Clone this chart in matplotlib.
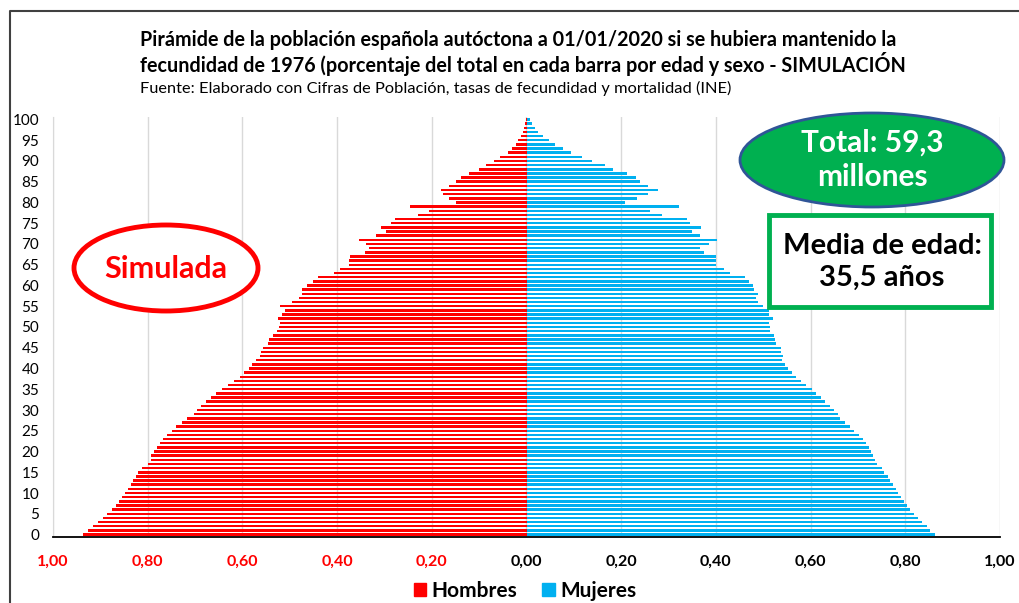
import matplotlib.pyplot as plt
import numpy as np
from matplotlib.patches import Ellipse, Rectangle, Patch
from matplotlib.ticker import FuncFormatter, MultipleLocator

plt.rcParams['font.family'] = ['Lato', 'DejaVu Sans']

# edad 0..100
edades = np.arange(0, 101)

# % del total, hombres (se dibujan a la izquierda)
hombres = [0.937, 0.926, 0.916, 0.905, 0.895, 0.886, 0.876, 0.868, 0.861, 0.854,
           0.848, 0.842, 0.836, 0.830, 0.825, 0.820, 0.811, 0.800, 0.794, 0.792,
           0.787, 0.781, 0.775, 0.768, 0.759, 0.749, 0.740, 0.727, 0.716, 0.702,
           0.695, 0.687, 0.676, 0.666, 0.655, 0.643, 0.630, 0.618, 0.606, 0.596,
           0.587, 0.579, 0.571, 0.563, 0.560, 0.556, 0.546, 0.543, 0.535, 0.527,
           0.523, 0.520, 0.525, 0.516, 0.511, 0.521, 0.496, 0.481, 0.474, 0.474,
           0.463, 0.451, 0.440, 0.407, 0.393, 0.375, 0.374, 0.372, 0.342, 0.332,
           0.340, 0.354, 0.317, 0.296, 0.308, 0.286, 0.277, 0.230, 0.206, 0.245,
           0.148, 0.164, 0.176, 0.180, 0.164, 0.148, 0.138, 0.122, 0.101, 0.086,
           0.068, 0.055, 0.040, 0.031, 0.023, 0.017, 0.012, 0.008, 0.005, 0.003,
           0.002]

# % del total, mujeres (a la derecha)
mujeres = [0.863, 0.853, 0.845, 0.836, 0.827, 0.819, 0.810, 0.803, 0.797, 0.791,
           0.785, 0.780, 0.774, 0.768, 0.763, 0.756, 0.751, 0.740, 0.735, 0.732,
           0.728, 0.723, 0.717, 0.710, 0.702, 0.692, 0.683, 0.673, 0.663, 0.657,
           0.649, 0.641, 0.631, 0.623, 0.612, 0.602, 0.591, 0.579, 0.569, 0.560,
           0.552, 0.546, 0.540, 0.542, 0.538, 0.537, 0.526, 0.525, 0.522, 0.514,
           0.514, 0.512, 0.521, 0.513, 0.512, 0.500, 0.489, 0.484, 0.489, 0.480,
           0.479, 0.470, 0.462, 0.430, 0.418, 0.401, 0.401, 0.400, 0.375, 0.367,
           0.385, 0.403, 0.366, 0.350, 0.368, 0.346, 0.339, 0.287, 0.261, 0.323,
           0.209, 0.234, 0.257, 0.277, 0.256, 0.240, 0.232, 0.212, 0.183, 0.166,
           0.138, 0.117, 0.093, 0.078, 0.060, 0.047, 0.035, 0.025, 0.017, 0.012,
           0.008]

xticks = np.arange(-1.0, 1.01, 0.2)

rojo = '#FF0000'
azul = '#00B0F0'
verde = '#00B050'

W, H = 1019, 603
fig = plt.figure(figsize=(W / 100, H / 100), dpi=100)
ax = fig.add_axes([53 / W, (H - 537) / H, (1000 - 53) / W, (537 - 117) / H])

ax.barh(edades, -np.array(hombres), height=0.6, color=rojo, zorder=3)
ax.barh(edades, mujeres, height=0.6, color=azul, zorder=3)

ax.set_xlim(-1, 1)
ax.set_ylim(-0.6, 100.6)
ax.set_xticks(xticks)
ax.xaxis.set_major_formatter(FuncFormatter(lambda v, p: ('%.2f' % abs(v)).replace('.', ',')))
ax.yaxis.set_major_locator(MultipleLocator(5))
ax.grid(axis='x', color='#D9D9D9', lw=1, zorder=0)
for s in ['top', 'right']:
    ax.spines[s].set_visible(False)
ax.spines['left'].set_color('#D9D9D9')
ax.spines['bottom'].set_color('black')
ax.spines['bottom'].set_linewidth(1.3)
ax.spines['bottom'].set_zorder(4)
ax.tick_params(axis='both', length=0)
ax.tick_params(axis='y', pad=10, labelsize=11)
ax.tick_params(axis='x', pad=13, labelsize=11.5)
for t, v in zip(ax.get_xticklabels(), xticks):
    t.set_fontweight('bold')
    t.set_color(rojo if v < -0.01 else 'black')

# titulo
fig.text(140 / W, 1 - 40 / H, 'Pirámide de la población española autóctona a 01/01/2020 si se hubiera mantenido la',
         fontsize=14.2, fontweight='bold', va='center', ha='left')
fig.text(140 / W, 1 - 64 / H, 'fecundidad de 1976 (porcentaje del total en cada barra por edad y sexo - SIMULACIÓN',
         fontsize=14.2, fontweight='bold', va='center', ha='left')
fig.text(140 / W, 1 - 88 / H, 'Fuente: Elaborado con Cifras de Población, tasas de fecundidad y mortalidad (INE)',
         fontsize=11.8, va='center', ha='left')

# leyenda
handles = [Patch(color=rojo, label='Hombres'), Patch(color=azul, label='Mujeres')]
fig.legend(handles=handles, loc='center', bbox_to_anchor=(525 / W, 1 - 591 / H), ncol=2,
           frameon=False, handlelength=0.6, handleheight=0.6, handletextpad=0.25,
           columnspacing=1.2, prop={'weight': 'bold', 'size': 15})

# capa de anotaciones en pixeles
ov = fig.add_axes([0, 0, 1, 1], zorder=10)
ov.set_xlim(0, W)
ov.set_ylim(H, 0)
ov.axis('off')
ov.patch.set_alpha(0)

ov.plot([10, 10, W + 5], [H + 5, 11, 11], color='#404040', lw=1.5)

ov.add_patch(Ellipse((872, 160), 264, 94, facecolor=verde, edgecolor='#2F5597', lw=2))
ov.text(872, 160, 'Total: 59,3\nmillones', color='white', fontsize=21.5, fontweight='bold',
        ha='center', va='center', linespacing=1.3)

ov.add_patch(Rectangle((769, 215), 222, 92, facecolor='white', edgecolor=verde, lw=3.5))
ov.text(882, 262, 'Media de edad:\n35,5 años', color='black', fontsize=21, fontweight='bold',
        ha='center', va='center', linespacing=1.3)

ov.add_patch(Ellipse((166, 268), 184, 86, facecolor='white', edgecolor=rojo, lw=3.5))
ov.text(166, 269, 'Simulada', color=rojo, fontsize=22, fontweight='bold', ha='center', va='center')

plt.savefig('out.png', dpi=100)
